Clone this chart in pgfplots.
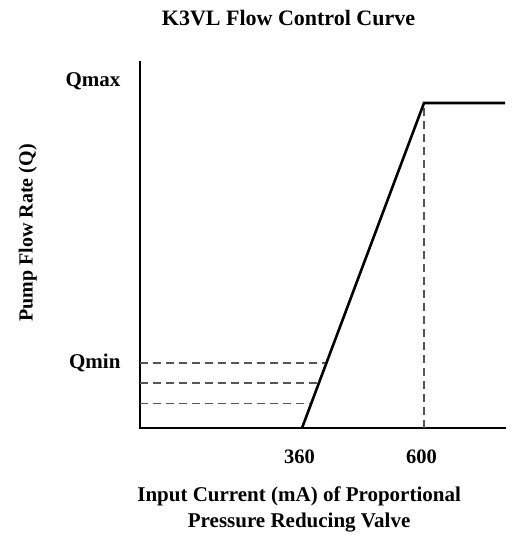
\documentclass[border=0pt]{standalone}
\usepackage{pgfplots}
\pgfplotsset{compat=1.18}
\usepackage{fontspec}
\setmainfont{Liberation Serif}
\definecolor{dashgray}{HTML}{555555}
\begin{document}
\begin{tikzpicture}
\useasboundingbox (-140pt,-110pt) rectangle (372pt,428pt);
\begin{axis}[
  scale only axis,
  width=365pt, height=366pt,
  xmin=41.3, xmax=759.3,
  ymin=0, ymax=112.6,
  axis x line=bottom, axis y line=left,
  axis line style={-, line width=2pt, line cap=rect},
  clip=false,
  xtick={360,600}, xticklabels={\textbf{360},\textbf{600}},
  ytick={20,106.8}, yticklabels={\textbf{Qmin},\textbf{Qmax}},
  major tick length=0pt,
  xticklabel style={font=\fontsize{20.5}{22}\selectfont, yshift=-18pt, xshift=-2.5pt},
  yticklabel style={font=\fontsize{21}{23}\selectfont, anchor=east, xshift=-16pt},
  title={\textbf{K3VL Flow Control Curve}},
  title style={font=\fontsize{22}{24}\selectfont, at={(rel axis cs:0.407,1.104)}, anchor=center},
  xlabel={\textbf{Input Current (mA) of Proportional}\\\textbf{Pressure Reducing Valve}},
  xlabel style={font=\fontsize{21}{26}\selectfont, align=center, at={(rel axis cs:0.436,-0.222)}, anchor=center},
  ylabel={\textbf{Pump Flow Rate (Q)}},
  ylabel style={font=\fontsize{20}{22}\selectfont, at={(rel axis cs:-0.307,0.533)}, anchor=center, rotate=0},
]
\addplot[dashgray, line width=1.3pt, dash pattern=on 8pt off 5pt] coordinates {(41.3,20) (408,20)};
\addplot[dashgray, line width=1.3pt, dash pattern=on 8pt off 5pt] coordinates {(41.3,13.8) (393,13.8)};
\addplot[dashgray, line width=1.3pt, dash pattern=on 8pt off 5pt] coordinates {(41.3,7.5) (378,7.5)};
\addplot[dashgray, line width=1.3pt, dash pattern=on 8pt off 5pt] coordinates {(600,0) (600,100)};
\addplot[black, line width=2.6pt] coordinates {(360,0) (600,100) (759.3,100)};
\end{axis}
\end{tikzpicture}
\end{document}
